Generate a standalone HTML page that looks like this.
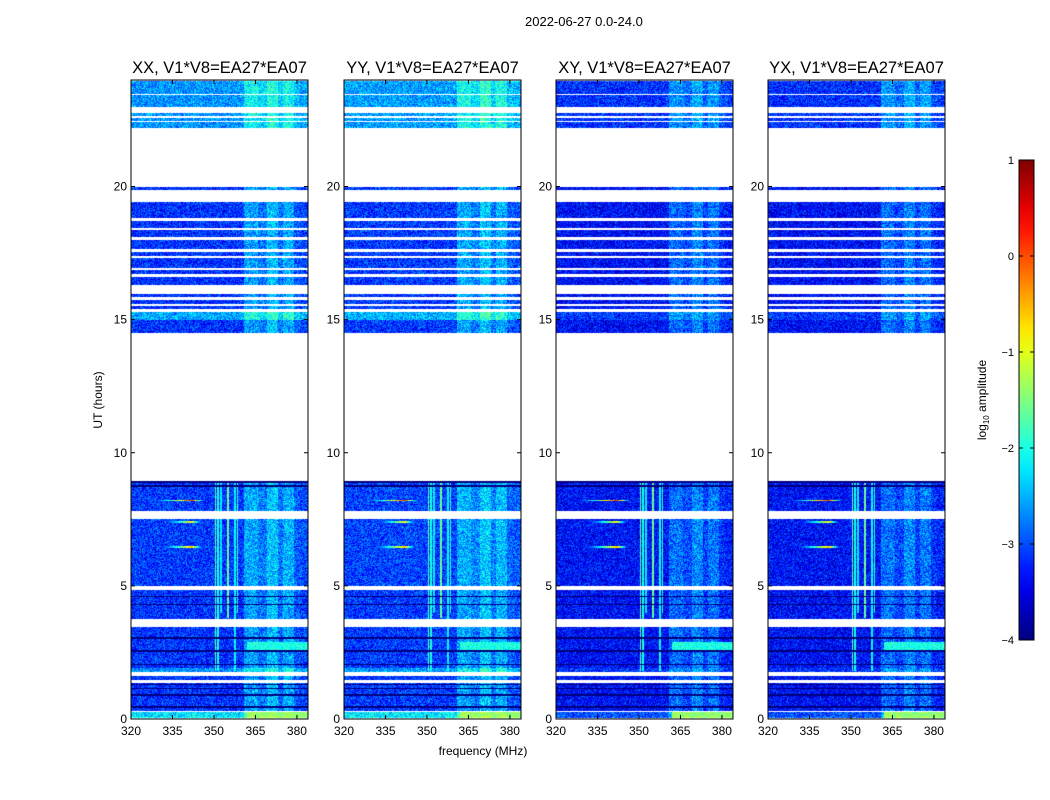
<!DOCTYPE html>
<html><head><meta charset="utf-8"><style>
body{margin:0;background:#fff;font-family:"Liberation Sans",sans-serif;}
#wrap{position:relative;width:1050px;height:800px;overflow:hidden;background:#fff}
.t{position:absolute;font-size:12px;color:#000;white-space:nowrap}
canvas{position:absolute}
</style></head><body>
<div id="wrap">
<div class="t" style="left:525px;top:14px;font-size:13px">2022-06-27 0.0-24.0</div>
<svg id="ax" width="1050" height="800" style="position:absolute;left:0;top:0"></svg>
</div>
<script>
// ---- data ----
const panelTitles=["XX, V1*V8=EA27*EA07","YY, V1*V8=EA27*EA07","XY, V1*V8=EA27*EA07","YX, V1*V8=EA27*EA07"];
const panelBase=[-3.15,-3.1,-3.35,-3.35];
const xTicks=[320,335,350,365,380];
const yTicks=[0,5,10,15,20];
const cbTicks=[1,0,-1,-2,-3,-4];
// data bands: [startHour, endHour, level offset]
const bands=[[0.05,0.25,0.9],[0.3,1.35,0],[1.45,1.6,0],[1.75,1.9,0.5],[1.9,3.3,0],[3.3,3.45,0],[3.75,4.85,0],[5.0,7.5,0.05],[7.8,8.95,0.05],[14.5,15.0,0],[15.0,15.3,0.6],[15.4,15.5,0],[15.6,15.75,0],[15.85,15.95,0],[16.3,16.6,0],[16.7,16.85,0],[16.95,17.3,0],[17.4,17.55,0],[17.65,18.0,0],[18.1,18.35,0],[18.45,18.7,0],[18.8,19.4,0],[19.85,20.0,0],[22.18,22.42,0.5],[22.47,22.58,0.5],[22.63,22.77,0.5],[22.97,23.43,0.5],[23.47,23.95,0.5]];
// frequency enhancement: [f0, f1, boost]
const freqBoost=[[361,366,0.55],[366,369,0.35],[369,373,0.7],[373,375,0.3],[375,379,0.6],[379,381,0.2],[381,384,0.1]];
// vertical RFI lines: [freq, hourStart, hourEnd, level]
const rfiLines=[[350.5,1.8,9,-1.7],[351.5,1.8,9,-2.0],[352.5,4.0,9,-2.2],[355,3.8,9,-1.6],[357.5,1.8,9,-2.1],[358.5,4.0,9,-1.9]];
// horizontal spikes near 342 MHz: [hour, level]
const spikes=[[7.8,0.5],[8.2,0.1],[6.45,-0.6],[7.4,-0.9]];
// bright patches at high freq: [h0,h1,level]
const patches=[[2.6,2.9,-2.0],[0.05,0.25,-1.4]];
const blackLines=[0.45,0.9,1.15,1.3,2.05,2.55,3.05,4.3,4.6,8.75,8.9,15.3,16.15];

// ---- layout ----
const panelX=[131,344,556,768], pw=177, y0=80, y1=719;
const fMin=320,fMax=384,hMax=24;
const xs=f=>(f-fMin)/(fMax-fMin)*pw;
const ys=h=>y1-h/hMax*(y1-y0);
function jet(t){t=Math.max(0,Math.min(1,t));
 const r=Math.max(0,Math.min(1,1.5-Math.abs(4*t-3))),g=Math.max(0,Math.min(1,1.5-Math.abs(4*t-2))),b=Math.max(0,Math.min(1,1.5-Math.abs(4*t-1)));
 return [r*255|0,g*255|0,b*255|0];}
function hash(a,b,c){let h=(a*374761393+b*668265263+c*2147483647)|0;h=(h^(h>>>13))*1274126177|0;return ((h^(h>>>16))>>>0)/4294967296;}
const wrap=document.getElementById('wrap');
const svg=document.getElementById('ax');
const NS="http://www.w3.org/2000/svg";
function sv(tag,at){const e=document.createElementNS(NS,tag);for(const k in at)e.setAttribute(k,at[k]);svg.appendChild(e);return e;}
const H=y1-y0;
panelX.forEach((px,p)=>{
 const c=document.createElement('canvas');c.width=pw;c.height=H;c.style.left=px+'px';c.style.top=y0+'px';
 
 
 wrap.insertBefore(c,svg);
 const ctx=c.getContext('2d');const img=ctx.createImageData(pw,H);
 for(let y=0;y<H;y++){
  const h=(H-y-0.5)/H*hMax;
  let band=null;for(const b of bands){if(h>=b[0]&&h<b[1]){band=b;break;}}
  const black=blackLines.some(l=>Math.abs(h-l)<0.03);
  for(let x=0;x<pw;x++){
   const i=(y*pw+x)*4;
   if(!band){img.data[i]=img.data[i+1]=img.data[i+2]=255;img.data[i+3]=255;continue;}
   const f=fMin+(x+0.5)/pw*(fMax-fMin);
   let v=panelBase[p]+band[2]*(p<2?1:0.4);
   for(const fb of freqBoost){if(f>=fb[0]&&f<fb[1]){v+=fb[2]*(p<2?1:0.9);break;}}
   v+=(hash(x,y,p)-0.5)*1.0;
   for(const r of rfiLines){if(Math.abs(f-r[0])<0.3&&h>=r[1]&&h<r[2])v=Math.max(v,r[3]+(hash(x,y,7)-0.5)*0.3);}
   for(const s of spikes){if(Math.abs(h-s[0])<0.03){const d=f-342;const tail=d<0?d*-0.25:d*0.7;v=Math.max(v,s[1]-tail);}}
   for(const pa of patches){if(h>=pa[0]&&h<pa[1]&&f>=362)v=Math.max(v,pa[2]+(hash(x,y,3)-0.5)*0.6);}
   if(black)v=-4.2;
   const col=jet((v+4)/5);
   img.data[i]=col[0];img.data[i+1]=col[1];img.data[i+2]=col[2];img.data[i+3]=255;
  }
 }
 ctx.putImageData(img,0,0);
 const fr=sv('rect',{x:px,y:y0,width:pw,height:H,fill:'none',stroke:'#000','stroke-width':1});
 
 
 xTicks.forEach(t=>{const x=px+xs(t);
  sv('line',{x1:x,x2:x,y1:y1,y2:y1-4,stroke:'#000'});sv('line',{x1:x,x2:x,y1:y0,y2:y0+4,stroke:'#000'});
  const tx=sv('text',{x:x,y:y1+16,'font-size':12,'text-anchor':'middle','font-family':'Liberation Sans'});tx.textContent=t;
  
  });
 yTicks.forEach(t=>{const y=ys(t);
  sv('line',{x1:px,x2:px+4,y1:y,y2:y,stroke:'#000'});sv('line',{x1:px+pw,x2:px+pw-4,y1:y,y2:y,stroke:'#000'});
  const tx=sv('text',{x:px-4,y:y+4,'font-size':12,'text-anchor':'end','font-family':'Liberation Sans'});tx.textContent=t;
  
  });
 const tt=sv('text',{x:px+pw/2,y:y0-7,'font-size':16.5,'text-anchor':'middle','font-family':'Liberation Sans'});tt.textContent=panelTitles[p];
 
 
});
let t=sv('text',{x:483,y:755,'font-size':12,'text-anchor':'middle','font-family':'Liberation Sans'});t.textContent='frequency (MHz)';


t=sv('text',{x:102,y:400,'font-size':12,'text-anchor':'middle','font-family':'Liberation Sans',transform:'rotate(-90 102 400)'});t.textContent='UT (hours)';


// colorbar
const cbx=1019,cbw=15,cbt=160,cbb=640;
const defs=sv('defs',{});const lg=document.createElementNS(NS,'linearGradient');lg.setAttribute('id','jg');lg.setAttribute('x1','0');lg.setAttribute('y1','1');lg.setAttribute('x2','0');lg.setAttribute('y2','0');defs.appendChild(lg);
for(let k=0;k<=20;k++){const c=jet(k/20);const s=document.createElementNS(NS,'stop');s.setAttribute('offset',k/20);s.setAttribute('stop-color',`rgb(${c})`);lg.appendChild(s);}
const cb=sv('rect',{x:cbx,y:cbt,width:cbw,height:cbb-cbt,fill:'url(#jg)',stroke:'#000'});


cbTicks.forEach(v=>{const y=cbb-(v+4)/5*(cbb-cbt);
 sv('line',{x1:cbx,x2:cbx+4,y1:y,y2:y,stroke:'#000'});sv('line',{x1:cbx+cbw,x2:cbx+cbw-4,y1:y,y2:y,stroke:'#000'});
 const tx=sv('text',{x:cbx-5,y:y+4,'font-size':11,'text-anchor':'end','font-family':'Liberation Sans'});tx.textContent=v<0?'\u2212'+(-v):v;
 
 });
t=sv('text',{x:986,y:400,'font-size':12,'text-anchor':'middle','font-family':'Liberation Sans',transform:'rotate(-90 986 400)'});
t.innerHTML='log<tspan font-size="8" dy="3">10</tspan><tspan dy="-3"> amplitude</tspan>';


</script>
</body></html>
